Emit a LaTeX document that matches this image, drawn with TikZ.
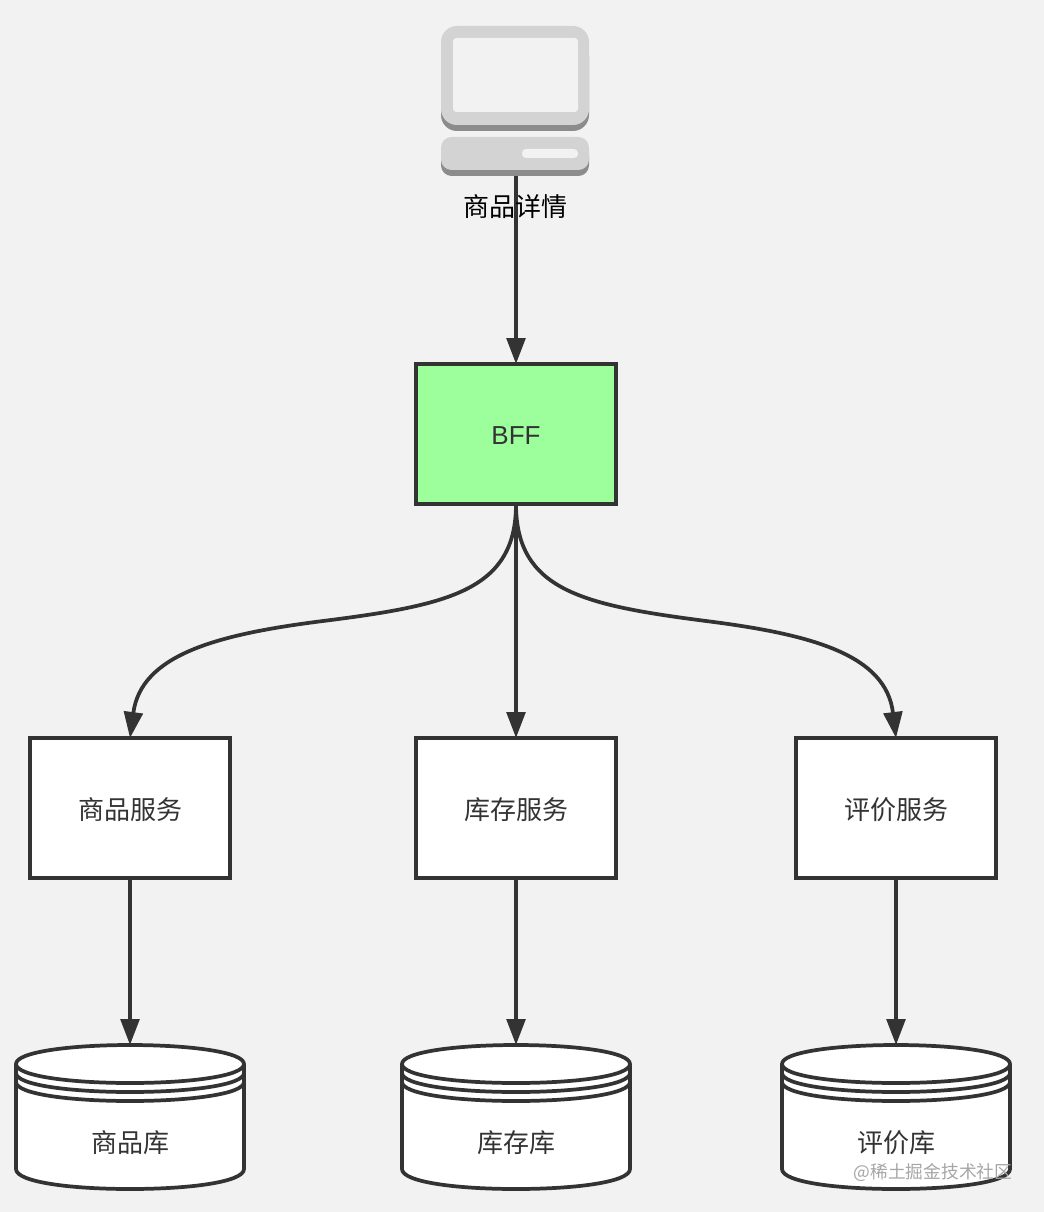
\documentclass[tikz,border=0pt]{standalone}
\usepackage{fontspec}
\setmainfont{Liberation Sans}
\newfontfamily\cjk{Noto Sans CJK SC}
\usetikzlibrary{arrows.meta,calc}
\definecolor{bgc}{HTML}{F2F2F2}
\definecolor{ink}{HTML}{333333}
\definecolor{bffgreen}{HTML}{9CFF9C}
\definecolor{iconlight}{HTML}{D3D3D3}
\definecolor{icondark}{HTML}{8C8C8C}
\newcommand{\lowertext}[1]{\raisebox{-1pt}[\height][\depth]{#1}}
\tikzset{
  x=0.75pt,y=-0.75pt,
  svcbox/.style={draw=ink,line width=2.8pt,fill=white,outer sep=0pt,minimum width=150pt,minimum height=105pt,inner sep=0pt,font=\cjk\fontsize{19.5}{23}\selectfont,text=ink},
  dbnode/.style={minimum width=171pt,minimum height=108pt,inner sep=0pt,outer sep=0pt},
  dbshape/.style={draw=ink,line width=2.8pt,fill=white},
  dbring/.style={draw=ink,line width=2.8pt},
  dblabel/.style={font=\cjk\fontsize{19.5}{23}\selectfont,text=ink},
  flow/.style={draw=ink,line width=2.8pt,-{Triangle[length=19.5pt,width=14pt,fill=ink]}},
}
\newcommand{\dbcyl}[1]{%
  \begin{scope}[shift={(#1,0)}]
    \path[dbshape] (-114,1064) -- (-114,1169) .. controls (-114,1182) and (-60,1189) .. (0,1189) .. controls (60,1189) and (114,1182) .. (114,1169) -- (114,1064) .. controls (114,1052) and (60,1045) .. (0,1045) .. controls (-60,1045) and (-114,1052) .. (-114,1064) -- cycle;
    \foreach \dy in {0,9,18}{
      \path[dbring] (-114,1064+\dy) .. controls (-114,1076+\dy) and (-60,1083+\dy) .. (0,1083+\dy) .. controls (60,1083+\dy) and (114,1076+\dy) .. (114,1064+\dy);
    }
  \end{scope}}
\begin{document}
\begin{tikzpicture}
\useasboundingbox (0,0) rectangle (1044,1212);
\fill[bgc] (0,0) rectangle (1044,1212);
% computer icon
\fill[icondark,rounded corners=12pt] (441,40) rectangle (589,131);
\fill[iconlight,rounded corners=12pt] (441,26) rectangle (589,125);
\fill[bgc,rounded corners=2.5pt] (453,38) rectangle (578,112);
\fill[icondark,rounded corners=8pt] (441,145) rectangle (589,176);
\fill[iconlight,rounded corners=8pt] (441,137) rectangle (589,170);
\fill[bgc,rounded corners=3pt] (522,149) rectangle (578,158);
\node[minimum width=111pt,minimum height=112.5pt,inner sep=0pt,outer sep=0pt] (pc) at (515,101) {};
% boxes
\node[svcbox,fill=bffgreen] (bff) at (516,434) {\lowertext{\rmfamily\fontsize{19.5}{23}\selectfont BFF}};
\node[svcbox] (s1) at (130,808) {\lowertext{商品服务}};
\node[svcbox] (s2) at (516,808) {\lowertext{库存服务}};
\node[svcbox] (s3) at (896,808) {\lowertext{评价服务}};
% databases
\dbcyl{130}\dbcyl{516}\dbcyl{896}
\node[dbnode] (d1) at (130,1117) {};
\node[dbnode] (d2) at (516,1117) {};
\node[dbnode] (d3) at (896,1117) {};
\node[dblabel] (t1) at (130,1143) {商品库};
\node[dblabel] (t2) at (516,1143) {库存库};
\node[dblabel] (t3) at (896,1143) {评价库};
% connectors
\draw[flow] (516,176) coordinate (pcb) -- (bff.north);
\draw[flow] (bff.south) -- (s2.north);
\draw[flow] (bff.south) .. controls (516,590) and (450,605) .. (323,621) .. controls (216,634.5) and (141,655) .. (s1.north);
\draw[flow] (bff.south) .. controls (516,590) and (582,605) .. (706,621) .. controls (813,634.5) and (886,655) .. (s3.north);
\draw[flow] (s1.south) -- (d1.north);
\draw[flow] (s2.south) -- (d2.north);
\draw[flow] (s3.south) -- (d3.north);
% labels
\node[font=\cjk\fontsize{19.5}{23}\selectfont,text=black] (pclabel) at (515,207) {商品详情};
\node[font=\cjk\fontsize{13.3}{15}\selectfont,text=gray!70,anchor=east] (wm) at (1017,1172) {@稀土掘金技术社区};
\end{tikzpicture}
\end{document}
